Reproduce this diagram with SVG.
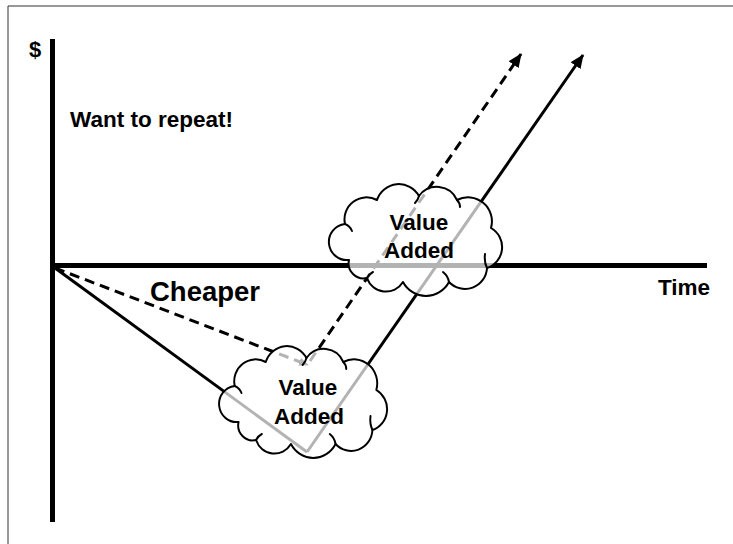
<svg xmlns="http://www.w3.org/2000/svg" width="733" height="544" viewBox="0 0 733 544">
  <style>
    .lbl { font-family: "Liberation Sans", Arial, sans-serif; font-weight: bold; fill: #000; }
    .axis { stroke: #000; stroke-width: 5; fill: none; }
    .solid { stroke: #000; stroke-width: 3; fill: none; }
    .dash { stroke: #000; stroke-width: 3; fill: none; stroke-dasharray: 10 6; }
    .cloud { fill: #fff; fill-opacity: 0.7; stroke: #000; stroke-width: 2; stroke-linejoin: round; }
    .inner { fill: none; stroke: #000; stroke-width: 2; stroke-linecap: round; }
  </style>
  <defs>
    <marker id="arrow" viewBox="0 0 14 12" refX="13" refY="6" markerWidth="14" markerHeight="12" markerUnits="userSpaceOnUse" orient="auto">
      <path d="M0,0 L14,6 L0,12 Z" fill="#000"/>
    </marker>
    <marker id="arrowSmall" viewBox="0 0 10 8" refX="9" refY="4" markerWidth="10" markerHeight="8" markerUnits="userSpaceOnUse" orient="auto">
      <path d="M0,0 L10,4 L0,8 Z" fill="#000"/>
    </marker>
    <!-- cloud outline in local units, about 168 x 108 -->
    <path id="cloudShape" d="M14,74 A17,17 0 0 1 10,38 A22,22 0 0 1 42,14 A23,23 0 0 1 84,10 A22,22 0 0 1 122,14 A24,24 0 0 1 156,42 A22,22 0 0 1 152,82 A22,22 0 0 1 114,96 A26,26 0 0 1 68,96 A20,20 0 0 1 32,92 A15,15 0 0 1 14,74 Z"/>
    <g id="cloudInner">
      <path d="M10,38 q5,2 7,7"/>
      <path d="M84,10 q-1,4 -4,7"/>
      <path d="M122,14 q3,3 3,7"/>
      <path d="M152,82 q-3,-6 -2,-14"/>
      <path d="M114,96 q-1,-6 -6,-10"/>
      <path d="M32,92 q2,-4 6,-6"/>
    </g>
  </defs>

  <!-- frame -->
  <g id="frame">
    <line x1="8" y1="6" x2="733" y2="6" stroke="#333" stroke-width="1"/>
    <line x1="8" y1="6" x2="8" y2="544" stroke="#333" stroke-width="1"/>
  </g>

  <!-- axes -->
  <g id="axes">
    <line class="axis" x1="52.5" y1="39" x2="52.5" y2="522"/>
    <line class="axis" x1="52" y1="265.5" x2="707" y2="265.5"/>
  </g>

  <!-- connectors -->
  <g id="connectors">
    <line class="solid" x1="55" y1="268" x2="307" y2="452"/>
    <line class="solid" x1="307" y1="452" x2="583" y2="55" marker-end="url(#arrow)"/>
    <line class="dash" x1="55" y1="268" x2="308" y2="365" marker-end="url(#arrowSmall)"/>
    <line class="dash" x1="310" y1="361" x2="521" y2="54" marker-end="url(#arrow)"/>
  </g>

  <!-- labels -->
  <g id="labels">
    <text class="lbl" x="29" y="57" font-size="22">$</text>
    <text class="lbl" x="70" y="127" font-size="22.5">Want to repeat!</text>
    <text class="lbl" x="150" y="301" font-size="27.5">Cheaper</text>
    <text class="lbl" x="658" y="295" font-size="22.5">Time</text>
  </g>

  <!-- upper cloud -->
  <g id="cloudUpper" transform="translate(335,186)">
    <use href="#cloudShape" class="cloud"/>
    <use href="#cloudInner" class="inner"/>
    <text class="lbl" x="84" y="44" font-size="22.5" text-anchor="middle">Value</text>
    <text class="lbl" x="84" y="72" font-size="22.5" text-anchor="middle">Added</text>
  </g>

  <!-- lower cloud -->
  <g id="cloudLower" transform="translate(225,348)">
    <use href="#cloudShape" class="cloud" transform="scale(0.97,1)"/>
    <use href="#cloudInner" class="inner" transform="scale(0.97,1)"/>
    <text class="lbl" x="83" y="47" font-size="22.5" text-anchor="middle">Value</text>
    <text class="lbl" x="84" y="76" font-size="22.5" text-anchor="middle">Added</text>
  </g>
</svg>
